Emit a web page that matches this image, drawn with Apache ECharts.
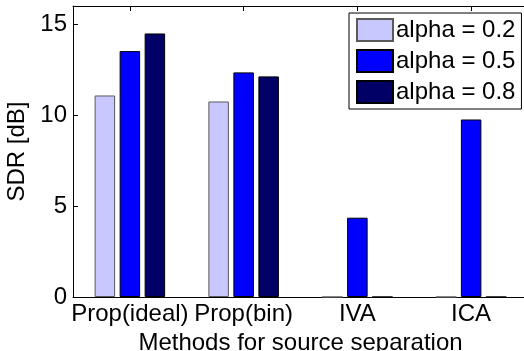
<!DOCTYPE html>
<html>
<head>
<meta charset="utf-8">
<script src="https://cdn.jsdelivr.net/npm/echarts@6/dist/echarts.min.js"></script>
<style>
  html, body { margin: 0; padding: 0; background: #fff; }
  #chart { width: 524px; height: 351px; }
</style>
</head>
<body>
<div id="chart"></div>
<script>
// 分组柱状图 - SDR
var methods = ['Prop(ideal)', 'Prop(bin)', 'IVA', 'ICA'];
var alphaNames = ['alpha = 0.2', 'alpha = 0.5', 'alpha = 0.8'];
var sdrAlpha02 = [11.08, 10.75, 0, 0];
var sdrAlpha05 = [13.52, 12.35, 4.36, 9.76];
var sdrAlpha08 = [14.49, 12.13, 0, 0];
var yTicks = [0, 5, 10, 15];

var colors = ['#c8c8ff', '#0000ff', '#000066'];
var edges = ['#5a5a5a', '#000', '#000'];
var values = [sdrAlpha02, sdrAlpha05, sdrAlpha08];

var font = 'Liberation Sans, Arial, sans-serif';

var dom = document.getElementById('chart');
var myChart = echarts.init(dom);

var series = [];
for (var i = 0; i < 3; i++) {
    series.push({
        name: alphaNames[i],
        type: 'bar',
        data: values[i],
        barWidth: 20.5,
        barGap: '22%',
        itemStyle: {
            color: colors[i],
            borderColor: edges[i],
            borderWidth: 1
        }
    });
}

myChart.setOption({
    animation: false,
    grid: {
        left: 73,
        top: 6,
        width: 455,
        height: 291,
        containLabel: false,
        outerBoundsMode: 'none'
    },
    legend: {
        data: alphaNames,
        orient: 'vertical',
        left: 349,
        top: 13,
        padding: [5, 6, 5, 7],
        icon: 'rect',
        itemWidth: 36,
        itemHeight: 22,
        itemGap: 7,
        backgroundColor: '#fff',
        borderColor: '#000',
        borderWidth: 1,
        borderRadius: 0,
        textStyle: {
            fontFamily: font,
            fontSize: 24,
            color: '#000',
            padding: [0, 0, 0, -2]
        }
    },
    xAxis: [
        {
            type: 'category',
            data: methods,
            name: 'Methods for source separation',
            nameLocation: 'middle',
            nameGap: 26,
            nameTextStyle: { fontFamily: font, fontSize: 24, color: '#000' },
            axisLine: { show: true, lineStyle: { color: '#000', width: 1 } },
            axisTick: { show: true, inside: true, alignWithLabel: true, length: 5, lineStyle: { color: '#000' } },
            axisLabel: { fontFamily: font, fontSize: 24, color: '#000', margin: 5, interval: 0 },
            splitLine: { show: false }
        },
        {
            type: 'category',
            data: methods,
            position: 'top',
            axisLine: { show: true, lineStyle: { color: '#000', width: 1 } },
            axisTick: { show: true, inside: true, alignWithLabel: true, length: 5, lineStyle: { color: '#000' } },
            axisLabel: { show: false }
        }
    ],
    yAxis: {
        type: 'value',
        min: 0,
        max: 16,
        interval: 5,
        name: 'SDR [dB]',
        nameLocation: 'middle',
        nameGap: 40,
        nameTextStyle: { fontFamily: font, fontSize: 24, color: '#000' },
        axisLine: { show: true, lineStyle: { color: '#000', width: 1 } },
        axisTick: { show: true, inside: true, length: 5, lineStyle: { color: '#000' } },
        axisLabel: {
            fontFamily: font,
            fontSize: 24,
            color: '#000',
            margin: 6,
            formatter: function (v) {
                return yTicks.indexOf(v) >= 0 ? String(v) : '';
            }
        },
        splitLine: { show: false }
    },
    series: series
});

window.addEventListener('resize', function () {
    myChart.resize();
});
</script>
</body>
</html>
